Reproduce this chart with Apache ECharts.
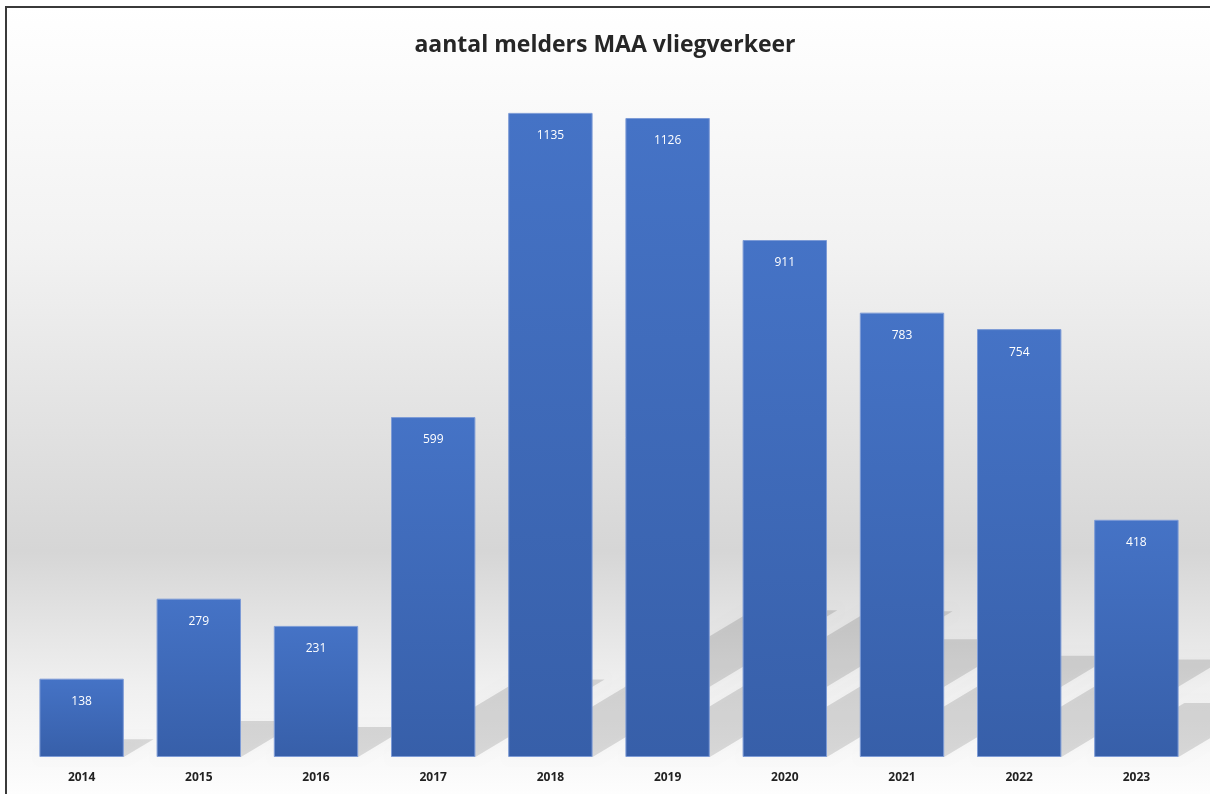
<!DOCTYPE html>
<html>
<head>
<meta charset="utf-8">
<title>aantal melders MAA vliegverkeer</title>
<script src="https://cdn.jsdelivr.net/npm/echarts@6/dist/echarts.min.js"></script>
<style>
  html, body { margin: 0; padding: 0; background: #fff; }
  #chart { width: 1210px; height: 794px; }
</style>
</head>
<body>
<div id="chart"></div>
<script>
// data
var years = ['2014', '2015', '2016', '2017', '2018', '2019', '2020', '2021', '2022', '2023'];
var melders = [138, 279, 231, 599, 1135, 1126, 911, 783, 754, 418];

var myChart = echarts.init(document.getElementById('chart'));

// schaduw op de "vloer" achter elke staaf (schuin naar rechtsboven)
function renderShadow(params, api) {
  var base = api.coord([api.value(0), 0]);
  var top = api.coord([api.value(0), api.value(1)]);
  var half = api.size([1, 0])[0] * 0.72 / 2;
  var xl = base[0] - half, xr = base[0] + half, y0 = base[1];
  var len = (y0 - top[1]) * 0.38;
  var dy = len * 0.6;
  return {
    type: 'polygon',
    shape: { points: [[xl, y0], [xr, y0], [xr + len, y0 - dy], [xl + len, y0 - dy]] },
    style: { fill: 'rgba(0,0,0,0.12)', shadowBlur: 8, shadowColor: 'rgba(0,0,0,0.12)' }
  };
}

var option = {
  title: {
    text: 'aantal melders MAA vliegverkeer',
    left: 'center',
    top: 29,
    textStyle: { fontFamily: 'Open Sans', fontSize: 23, fontWeight: 'bold', color: '#262626' }
  },
  // achtergrond en kader
  graphic: [
    {
      type: 'rect', z: -10, silent: true,
      shape: { x: 6, y: 7, width: 1210, height: 800 },
      style: {
        fill: new echarts.graphic.LinearGradient(0, 0, 0, 1, [
          { offset: 0, color: '#ffffff' },
          { offset: 0.3, color: '#f2f2f2' },
          { offset: 0.68, color: '#d6d6d6' },
          { offset: 0.85, color: '#f0f0f0' },
          { offset: 1, color: '#ffffff' }
        ]),
        stroke: '#3a3a3a', lineWidth: 2
      }
    }
  ],
  grid: { left: 23, right: 15, top: 76, bottom: 37 },
  xAxis: {
    type: 'category',
    data: years,
    axisLine: { show: false },
    axisTick: { show: false },
    axisLabel: { margin: 15, fontFamily: 'Open Sans', fontSize: 12, fontWeight: 'bold', color: '#222' }
  },
  yAxis: {
    type: 'value',
    min: 0, max: 1200,
    show: false,
    splitLine: { show: false }
  },
  series: [
    {
      type: 'custom',
      z: 1,
      silent: true,
      clip: false,
      renderItem: renderShadow,
      data: melders.map(function (v, i) { return [i, v]; })
    },
    {
      type: 'bar',
      z: 2,
      data: melders,
      barCategoryGap: '28%',
      itemStyle: {
        color: new echarts.graphic.LinearGradient(0, 0, 0, 1, [
          { offset: 0, color: '#4573c6' },
          { offset: 1, color: '#375fa9' }
        ]),
        borderColor: '#7d9bd6',
        borderWidth: 1
      },
      label: {
        show: true,
        position: 'insideTop',
        distance: 17,
        color: '#fff',
        fontFamily: 'Open Sans',
        fontSize: 12
      }
    }
  ]
};

myChart.setOption(option);
window.addEventListener('resize', function () {
  myChart.resize();
});
</script>
</body>
</html>
